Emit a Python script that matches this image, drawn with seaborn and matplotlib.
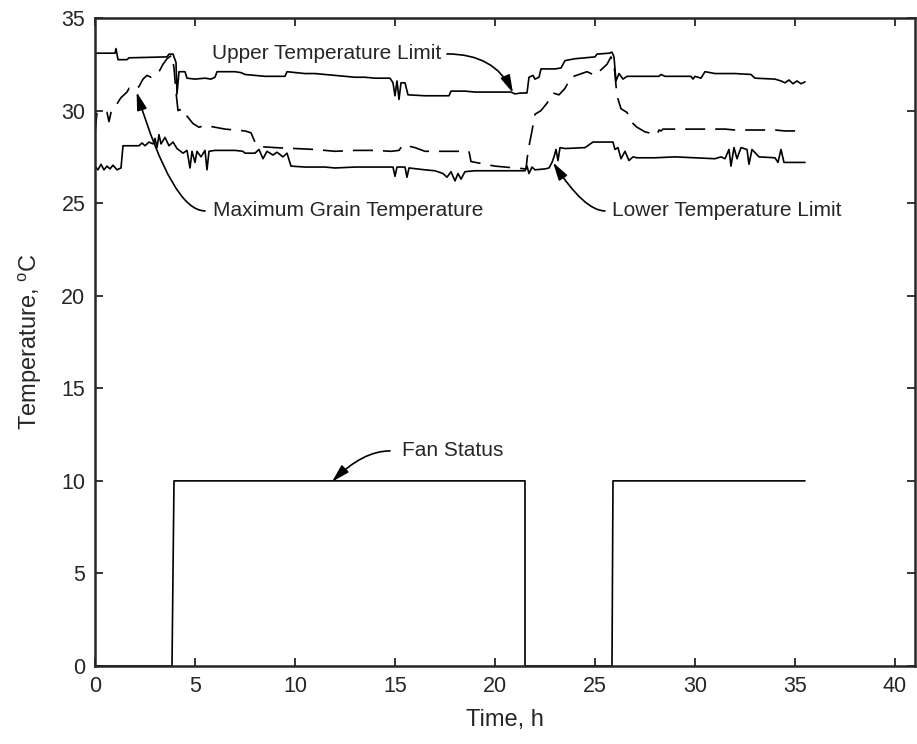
import pandas as pd
import matplotlib
matplotlib.use("Agg")
import matplotlib.pyplot as plt
import seaborn as sns

# upper temperature limit (solid)
upper_t = [0.0, 1.0, 1.05, 1.15, 1.6, 1.7, 3.6, 3.7, 3.9, 4.05, 4.1, 4.2, 4.5, 4.6, 5.0, 5.5,
           5.8, 6.0, 6.1, 7.0, 7.3, 7.5, 8.0, 8.5, 9.0, 9.5, 9.6, 10.5, 11.0, 12.0, 12.5, 13.0,
           13.5, 14.0, 14.75, 14.9, 15.0, 15.1, 15.2, 15.3, 15.5, 15.65, 16.5, 17.0, 17.7, 17.8,
           18.5, 19.0, 20.0, 20.8, 21.0, 21.3, 21.6, 21.7, 21.9, 22.0, 22.2, 22.3, 23.0, 23.3,
           23.5, 24.0, 24.5, 25.0, 25.1, 25.7, 25.85, 25.95, 26.05, 26.2, 26.4, 26.6, 27.0, 28.2,
           28.3, 28.5, 29.8, 29.9, 30.0, 30.3, 30.5, 31.0, 32.0, 32.8, 33.0, 34.0, 34.3, 34.5,
           34.7, 34.9, 35.1, 35.3, 35.5]
upper_v = [33.1, 33.1, 33.35, 32.75, 32.75, 32.85, 32.9, 33.05, 33.05, 32.6, 30.9, 32.1, 32.1, 31.75, 31.7, 31.75,
           31.7, 31.8, 32.1, 32.1, 32.05, 31.95, 31.9, 31.85, 31.85, 31.85, 32.1, 32.0, 32.0, 31.9, 31.85, 31.8,
           31.8, 31.75, 31.75, 31.5, 30.8, 31.6, 30.6, 31.5, 31.5, 30.85, 30.8, 30.8, 30.8, 31.05,
           31.05, 31.0, 31.0, 31.0, 30.9, 30.95, 30.95, 31.8, 31.9, 31.7, 31.8, 32.25, 32.25, 32.3,
           32.7, 32.8, 32.85, 32.9, 33.05, 33.1, 33.15, 32.9, 31.6, 32.0, 31.7, 31.85, 31.85, 31.85,
           31.95, 31.85, 31.85, 31.7, 31.85, 31.75, 32.1, 32.0, 32.0, 31.95, 31.75, 31.7, 31.6, 31.5,
           31.65, 31.45, 31.6, 31.45, 31.55]

# maximum grain temperature (dashed)
grain_t = [0.0, 0.1, 0.6, 0.7, 0.8, 1.0, 1.3, 1.6, 1.7, 2.0, 2.2, 2.4, 2.6, 2.8, 3.0, 3.2,
           3.4, 3.6, 3.85, 3.95, 4.05, 4.15, 4.4, 4.6, 4.9, 5.2, 5.5, 6.0, 6.5, 7.0, 7.5, 7.8,
           8.0, 8.3, 9.0, 10.0, 11.0, 12.0, 13.0, 14.0, 14.8, 15.2, 15.4, 16.0, 16.5, 18.7, 18.8,
           19.5, 20.0, 21.0, 21.55, 21.65, 21.85, 22.0, 22.3, 22.6, 22.9, 23.2, 23.5, 23.8, 24.2,
           24.6, 25.0, 25.3, 25.6, 25.8, 25.95, 26.1, 26.3, 26.6, 26.9, 27.1, 27.5, 28.1, 28.2,
           28.3, 28.4, 30.0, 31.5, 32.0, 33.0, 34.0, 34.5, 35.5]
grain_v = [28.8, 29.9, 29.9, 29.4, 29.9, 30.2, 30.7, 31.0, 31.2, 31.1, 31.3, 31.7, 31.9, 31.8, 31.9, 32.1,
           32.5, 32.8, 33.0, 32.3, 31.0, 30.0, 30.1, 29.7, 29.3, 29.1, 29.2, 29.1, 29.0, 28.95, 28.9, 28.8,
           28.3, 28.05, 28.0, 27.95, 27.9, 27.8, 27.85, 27.85, 27.8, 27.85, 28.15, 28.0, 27.8, 27.8, 27.25,
           27.1, 27.0, 26.9, 26.85, 27.8, 28.9, 29.8, 30.0, 30.4, 30.95, 30.85, 31.2, 31.8, 31.95,
           32.1, 31.9, 32.2, 32.5, 32.9, 32.5, 30.8, 30.1, 29.9, 29.3, 29.1, 28.85, 28.7, 28.95,
           28.9, 29.0, 29.0, 29.0, 28.95, 28.95, 28.95, 28.9, 28.9]

# lower temperature limit (solid)
lower_t = [0.0, 0.15, 0.3, 0.45, 0.6, 0.75, 0.9, 1.1, 1.3, 1.4, 2.2, 2.35, 2.5, 2.7, 2.9, 3.0,
           3.1, 3.2, 3.3, 3.5, 3.7, 3.9, 4.1, 4.4, 4.6, 4.75, 4.85, 5.0, 5.1, 5.3, 5.5, 5.6,
           5.7, 6.0, 7.0, 7.4, 7.5, 8.0, 8.2, 8.4, 8.6, 8.9, 9.1, 9.4, 9.6, 9.8, 10.5, 11.5,
           12.0, 13.0, 14.0, 14.9, 15.0, 15.1, 15.5, 15.6, 15.7, 16.5, 17.0, 17.4, 17.6, 17.8,
           18.0, 18.15, 18.3, 18.5, 19.0, 20.0, 21.0, 21.5, 21.6, 21.7, 21.85, 22.0, 22.5, 22.7,
           22.85, 22.95, 23.05, 23.15, 23.25, 23.5, 24.5, 24.9, 25.9, 26.0, 26.15, 26.3, 26.5, 26.7,
           26.9, 27.1, 28.0, 29.0, 30.0, 31.0, 31.3, 31.5, 31.7, 31.8, 31.95, 32.1, 32.3, 32.6,
           32.7, 32.85, 33.2, 34.0, 34.15, 34.3, 34.45, 35.5]
lower_v = [27.0, 26.8, 27.1, 26.8, 27.0, 26.85, 27.05, 26.8, 26.9, 28.1, 28.1, 28.25, 28.1, 28.3, 28.2, 28.5,
           28.0, 28.7, 28.2, 28.55, 28.1, 28.3, 27.95, 27.7, 27.85, 26.9, 27.8, 27.2, 27.8, 27.5, 27.85, 26.8,
           27.8, 27.85, 27.85, 27.8, 27.7, 27.7, 27.9, 27.4, 27.8, 27.6, 27.75, 27.5, 27.7, 27.0, 26.95, 26.95,
           26.9, 26.95, 26.95, 26.95, 26.45, 26.95, 26.95, 26.4, 26.9, 26.8, 26.75, 26.6, 26.4, 26.7,
           26.2, 26.6, 26.3, 26.7, 26.75, 26.75, 26.75, 26.75, 27.0, 26.6, 26.95, 26.8, 26.85, 26.9,
           27.2, 27.5, 27.9, 27.3, 28.0, 27.95, 28.0, 28.3, 28.3, 27.9, 28.0, 27.4, 27.8, 27.3,
           27.5, 27.45, 27.45, 27.5, 27.45, 27.4, 27.5, 27.4, 27.9, 27.0, 28.0, 27.4, 28.0, 27.9,
           27.1, 27.9, 27.5, 27.45, 27.2, 27.9, 27.2, 27.2]

# fan status (on = 10)
fan_t = [0.0, 3.85, 3.95, 21.5, 21.5, 25.85, 25.9, 35.5]
fan_v = [0, 0, 10, 10, 0, 0, 10, 10]

sns.set_theme(style="ticks", rc={
    "axes.linewidth": 1.8,
    "xtick.direction": "in", "ytick.direction": "in",
    "xtick.top": True, "ytick.right": True,
    "xtick.major.size": 6, "ytick.major.size": 6,
    "xtick.major.width": 1.3, "ytick.major.width": 1.3,
})
plt.rcParams["font.family"] = ["Liberation Sans", "DejaVu Sans"]

fig = plt.figure(figsize=(9.17, 7.44), dpi=100)
ax = fig.add_axes([0.1036, 0.1048, 0.8942, 0.871])

def draw(t, v, **kw):
  sns.lineplot(x=t, y=v, ax=ax, color="black", sort=False, estimator=None, **kw)

draw(upper_t, upper_v, lw=1.2)
draw(grain_t, grain_v, lw=1.2, linestyle=(0, (12, 6)))
draw(lower_t, lower_v, lw=1.2)
draw(fan_t, fan_v, lw=1.2)

ax.set_xlim(0, 41)
ax.set_ylim(0, 35)
ax.set_xticks(range(0, 41, 5))
ax.set_yticks(range(0, 36, 5))
ax.tick_params(labelsize=15.5, pad=7)
ax.set_xlabel("Time, h", fontsize=17, labelpad=9)
ax.set_ylabel("Temperature, $^\\mathregular{o}$C", fontsize=17, labelpad=12)

arrow = dict(arrowstyle="-|>,head_length=0.9,head_width=0.25", mutation_scale=12,
             color="black", lw=1.2, shrinkA=0, shrinkB=0)

# labels and curved leader arrows
ax.text(5.85, 33.06, "Upper Temperature Limit", fontsize=15, va="center", ha="left")
ax.annotate("", xy=(20.9, 30.95), xytext=(17.6, 33.06),
            arrowprops=dict(arrow, connectionstyle="angle3,angleA=0,angleB=115"))

ax.text(5.9, 24.58, "Maximum Grain Temperature", fontsize=15, va="center", ha="left")
ax.annotate("", xy=(2.08, 31.0), xytext=(5.5, 24.58),
            arrowprops=dict(arrow, connectionstyle="angle3,angleA=0,angleB=-73"))

ax.text(25.85, 24.58, "Lower Temperature Limit", fontsize=15, va="center", ha="left")
ax.annotate("", xy=(22.9, 27.2), xytext=(25.5, 24.58),
            arrowprops=dict(arrow, connectionstyle="angle3,angleA=0,angleB=-57"))

ax.text(15.35, 11.62, "Fan Status", fontsize=15, va="center", ha="left")
ax.annotate("", xy=(11.85, 9.95), xytext=(14.75, 11.62),
            arrowprops=dict(arrow, connectionstyle="angle3,angleA=0,angleB=45"))

fig.savefig("out.png", dpi=100)
